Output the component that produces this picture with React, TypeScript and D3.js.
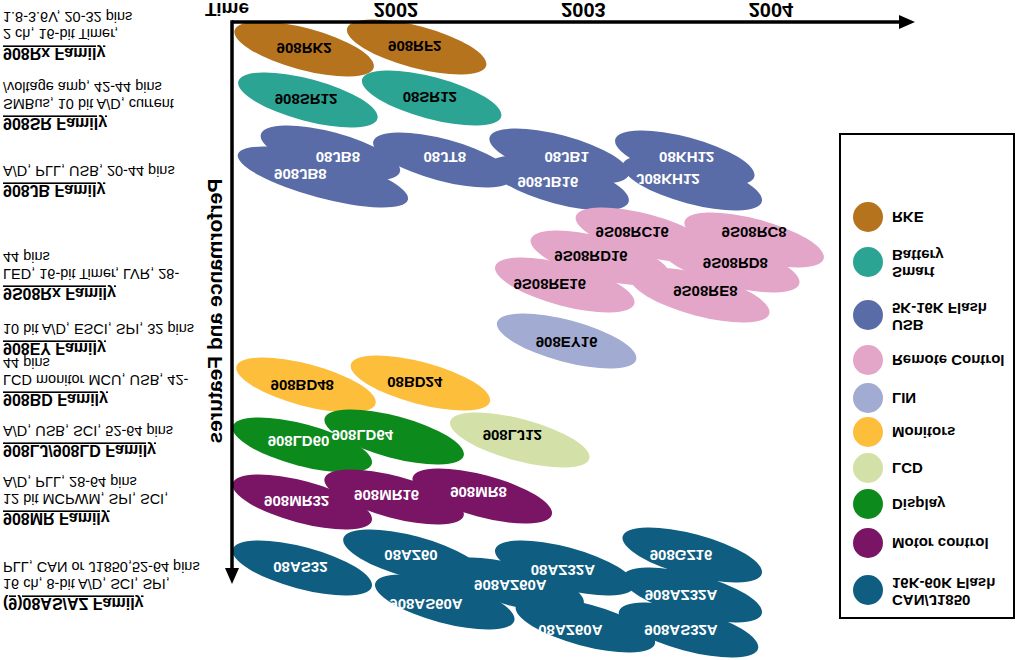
import React from 'react';
import * as d3 from 'd3';

// ---------- DATA ----------
const years = [2002, 2003, 2004];

const categoryNames = ['RKE', 'Smart Battery', 'USB 5K-16K Flash', 'Remote Control', 'LIN', 'Monitors', 'LCD', 'Display', 'Motor control', 'CAN/J1850 16K-60K Flash'];
const legendLines = [['RKE'], ['Smart', 'Battery'], ['USB', '5K-16K Flash'], ['Remote Control'], ['LIN'], ['Monitors'], ['LCD'], ['Display'], ['Motor control'], ['CAN/J1850', '16K-60K Flash']];
const categoryColors = ['#B5731E', '#2CA494', '#5A6CA7', '#E3A6C9', '#A2ABD1', '#FDBE3C', '#D3E1A8', '#0C8A1C', '#7A1566', '#0F5E82'];
const categoryDarkFill = [false, false, true, false, false, false, false, true, true, true];

const familyNames = ['908Rx Family', '908SR Family', '908JB Family', '9S08Rx Family', '908EY Family', '908BD Family', '908LJ/908LD Family', '908MR Family', '(9)08AS/AZ Family'];
const familyDetails = [
  ['2 ch, 16-bit Timer,', '1.8-3.6V, 20-32 pins'],
  ['SMBus, 10 bit A/D, current', '/voltage amp, 42-44 pins'],
  ['A/D, PLL, USB, 20-44 pins'],
  ['LED, 16-bit Timer, LVR, 28-', '44 pins'],
  ['10 bit A/D, ESCI, SPI, 32 pins'],
  ['LCD monitor MCU, USB, 42-', '44 pins'],
  ['A/D, USB, SCI, 52-64 pins'],
  ['12 bit MCPWM, SPI, SCI,', 'A/D, PLL, 28-64 pins'],
  ['16 ch, 8-bit A/D, SCI, SPI,', 'PLL, CAN or J1850,52-64 pins'],
];
// performance level of each family heading (same units as the y scale)
const familyLevel = [26, 96, 163, 266, 321, 372, 423, 491, 576];

const productNames = ['908RK2', '908RF2', '908SR12', '08SR12', '08JB8', '908JB8', '08JT8', '08JB1', '908JB16', '08KH12', 'J08KH12',
  '9S08RC16', '9S08RC8', '9S08RD16', '9S08RD8', '9S08RE16', '9S08RE8', '908EY16', '908BD48', '08BD24', '908LD60', '908LD64', '908LJ12',
  '908MR32', '908MR16', '908MR8', '08AS32', '08AZ60', '908AS60A', '908AZ60A', '08AZ32A', '08AZ60A', '908GZ16', '908AZ32A', '908AS32A'];
const productCategory = [0, 0, 1, 1, 2, 2, 2, 2, 2, 2, 2, 3, 3, 3, 3, 3, 3, 4, 5, 5, 7, 7, 6, 8, 8, 8, 9, 9, 9, 9, 9, 9, 9, 9, 9];
// introduction time (years) and performance level of each product bubble
const productTime = [2001.51, 2002.11, 2001.53, 2002.19, 2001.65, 2001.61, 2002.25, 2002.87, 2002.87, 2003.54, 2003.58,
  2003.33, 2003.91, 2003.09, 2003.78, 2002.90, 2003.62, 2002.91, 2001.52, 2002.13, 2001.50, 2001.99, 2002.66,
  2001.50, 2001.99, 2002.46, 2001.50, 2002.09, 2002.26, 2002.63, 2002.90, 2003.01, 2003.58, 2003.58, 2003.56];
const productPerf = [27, 25, 78, 76, 131, 155, 138, 134, 161, 136, 161,
  213, 218, 236, 243, 263, 273, 319, 363, 361, 423, 415, 418,
  480, 475, 474, 546, 535, 580, 563, 546, 603, 533, 573, 608];
// label anchor (time, level) of each product
const labelTime = [2001.51, 2002.10, 2001.52, 2002.18, 2001.69, 2001.49, 2002.26, 2002.91, 2002.81, 2003.55, 2003.45,
  2003.26, 2003.91, 2003.04, 2003.81, 2002.82, 2003.65, 2002.91, 2001.50, 2002.10, 2001.48, 2001.82, 2002.62,
  2001.47, 2001.95, 2002.44, 2001.49, 2002.08, 2002.16, 2002.61, 2002.89, 2002.93, 2003.52, 2003.52, 2003.52];
const labelPerf = [26, 24, 77, 75, 135, 152, 135, 135, 160, 135, 157,
  210, 210, 234, 241, 262, 269, 320, 363, 360, 419, 413, 413,
  479, 473, 470, 545, 533, 582, 563, 548, 608, 533, 573, 608];

// ---------- LAYOUT ----------
const W = 1024;
const H = 660;
const FONT = "'Liberation Sans', Arial, Helvetica, sans-serif";
const legendY = [217, 262, 315, 360, 398, 432, 468, 504, 543, 590];

const xScale = d3.scaleLinear().domain([2002, 2004]).range([396, 771]);
const yScale = d3.scaleLinear().domain([0, 560]).range([22, 582]);

// text drawn mirrored top-to-bottom like the rest of the picture; y is the baseline
function FT({ x, y, size, weight = 'bold', fill = '#000', anchor = 'start', children, underline = false }: any) {
  return (
    <text
      transform={`translate(${x},${y}) scale(1,-1)`}
      fontSize={size}
      fontWeight={weight}
      fill={fill}
      textAnchor={anchor}
      fontFamily={FONT}
      style={underline ? { textDecoration: 'underline' } : undefined}
    >
      {children}
    </text>
  );
}

export default function App() {
  const x0 = xScale.range()[0] - 164;
  const yTop = yScale(0);
  const rx = 72;
  const ry = 21;
  const rot = 15;
  const labelSize = 15;

  return (
    <svg width={W} height={H} style={{ position: 'absolute', left: 0, top: 0, background: '#fff' }}>
      <rect x={0} y={0} width={W} height={H} fill="#fff" />

      {/* bubbles */}
      {productNames.map((n, i) => (
        <ellipse
          key={'e' + n}
          cx={xScale(productTime[i])}
          cy={yScale(productPerf[i])}
          rx={n === '908JB8' ? 88 : rx}
          ry={ry}
          transform={`rotate(${rot},${xScale(productTime[i])},${yScale(productPerf[i])})`}
          fill={categoryColors[productCategory[i]]}
        />
      ))}
      {productNames.map((n, i) => (
        <FT
          key={'l' + n}
          x={xScale(labelTime[i])}
          y={yScale(labelPerf[i]) - labelSize * 0.36}
          size={labelSize}
          anchor="middle"
          fill={categoryDarkFill[productCategory[i]] ? '#fff' : '#000'}
        >
          {n}
        </FT>
      ))}

      {/* axes */}
      <line x1={x0} y1={yTop} x2={905} y2={yTop} stroke="#000" strokeWidth={3.5} />
      <path d={`M${915},${yTop} L${899},${yTop - 7} L${899},${yTop + 7} Z`} fill="#000" />
      <line x1={x0} y1={yTop - 1.75} x2={x0} y2={yScale(548)} stroke="#000" strokeWidth={3.5} />
      <path d={`M${x0},${yScale(562)} L${x0 - 7},${yScale(546)} L${x0 + 7},${yScale(546)} Z`} fill="#000" />

      {years.map((yr) => (
        <FT key={yr} x={xScale(yr)} y={3} size={20} anchor="middle">{String(yr)}</FT>
      ))}
      <FT x={205} y={3} size={19}>Time</FT>

      <text
        transform={`translate(222,311) scale(1,-1) rotate(-90)`}
        fontSize={21}
        fontWeight="bold"
        fontFamily={FONT}
        textAnchor="middle"
      >
        Performance and Features
      </text>

      {/* family descriptions */}
      {familyNames.map((f, i) => {
        const yb = yScale(familyLevel[i]);
        return (
          <g key={f}>
            <FT x={3} y={yb} size={16} underline>{f}</FT>
            {familyDetails[i].map((line, k) => (
              <FT key={k} x={3} y={yb - 18 * (k + 1) - (k === 0 ? 1 : 0)} size={14.5} weight="normal">{line}</FT>
            ))}
          </g>
        );
      })}

      {/* legend */}
      <rect x={840} y={134} width={174} height={484} fill="#fff" stroke="#000" strokeWidth={2} />
      {categoryNames.map((c, i) => {
        const cy = legendY[i];
        const lines = legendLines[i];
        return (
          <g key={c}>
            <circle cx={868} cy={cy} r={15} fill={categoryColors[i]} />
            {lines.length === 1 ? (
              <FT x={892} y={cy - 5.5} size={15}>{lines[0]}</FT>
            ) : (
              <>
                <FT x={892} y={cy + 5} size={15}>{lines[0]}</FT>
                <FT x={892} y={cy - 12} size={15}>{lines[1]}</FT>
              </>
            )}
          </g>
        );
      })}
    </svg>
  );
}
